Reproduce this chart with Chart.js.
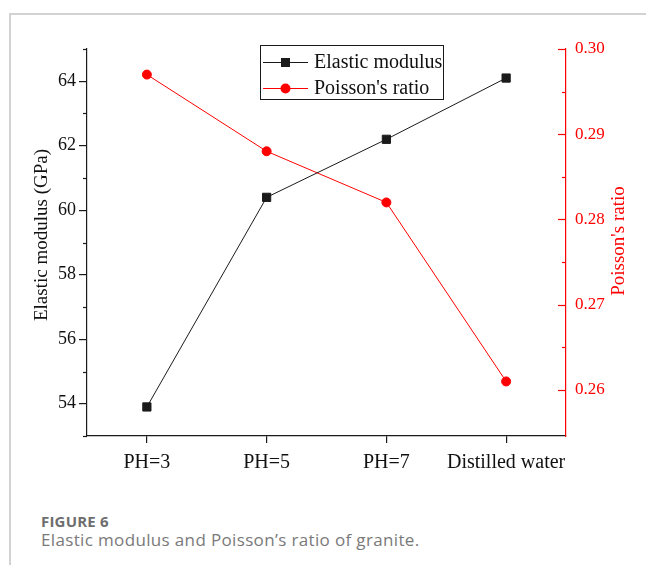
<!DOCTYPE html>
<html>
<head>
<meta charset="utf-8">
<script src="https://cdn.jsdelivr.net/npm/chart.js@4/dist/chart.umd.min.js"></script>
<style>
  html, body { margin: 0; padding: 0; background: #fff; }
  #page { position: relative; width: 646px; height: 565px; overflow: hidden; }
  #frame { position: absolute; left: 9px; top: 13px; right: -4px; bottom: -4px;
           border-left: 2px solid #d2d2d2; border-top: 2px solid #d2d2d2; }
  #wrap { position: absolute; left: 0; top: 0; width: 646px; height: 480px; }
  .cap1 { position: absolute; left: 41px; top: 511px; font: bold 15px "Open Sans", sans-serif;
          color: #6e6e6e; letter-spacing: 0.2px; }
  .cap2 { position: absolute; left: 41px; top: 528px; font: 17px "Open Sans", sans-serif;
          color: #7a7a7a; letter-spacing: 0.35px; }
</style>
</head>
<body>
<div id="page">
  <div id="frame"></div>
  <div id="wrap"><canvas id="c" width="646" height="480"></canvas></div>
  <div class="cap1">FIGURE 6</div>
  <div class="cap2">Elastic modulus and Poisson’s ratio of granite.</div>
</div>
<script>
// Test conditions along the x axis
const categories = ['PH=3', 'PH=5', 'PH=7', 'Distilled water'];
// Elastic modulus, GPa (left axis)
const elasticModulus = [53.9, 60.4, 62.2, 64.1];
// Poisson's ratio (right axis)
const poissonRatio = [0.297, 0.288, 0.282, 0.261];
// Labelled ticks
const modulusTicks = [54, 56, 58, 60, 62, 64];
const modulusMinorTicks = [53, 55, 57, 59, 61, 63, 65];
const ratioTicks = [0.26, 0.27, 0.28, 0.29, 0.30];
const ratioMinorTicks = [0.265, 0.275, 0.285, 0.295];

const SERIF = "'Liberation Serif'";
const INK = '#1a1a1a';
const RED = '#ff0000';

// Minor ticks (outward on the left axis, inward on the right axis),
// right-axis major ticks, both axis titles and the boxed legend.
const extras = {
  id: 'extras',
  afterDraw(chart) {
    const ctx = chart.ctx;
    const y = chart.scales.y, y1 = chart.scales.y1;
    const ca = chart.chartArea;
    ctx.save();
    ctx.lineWidth = 1.2;
    // left minor ticks
    ctx.strokeStyle = INK;
    modulusMinorTicks.forEach(v => {
      const py = Math.round(y.getPixelForValue(v)) + 0.5;
      ctx.beginPath(); ctx.moveTo(ca.left - 4, py); ctx.lineTo(ca.left, py); ctx.stroke();
    });
    // right ticks, pointing into the plot
    ctx.strokeStyle = RED;
    ratioTicks.forEach(v => {
      const py = Math.round(y1.getPixelForValue(v)) + 0.5;
      ctx.beginPath(); ctx.moveTo(ca.right - 8, py); ctx.lineTo(ca.right, py); ctx.stroke();
    });
    ratioMinorTicks.forEach(v => {
      const py = Math.round(y1.getPixelForValue(v)) + 0.5;
      ctx.beginPath(); ctx.moveTo(ca.right - 4, py); ctx.lineTo(ca.right, py); ctx.stroke();
    });
    ctx.restore();

    // axis titles, both reading bottom to top
    const titles = [
      { text: 'Elastic modulus (GPa)', x: 42, y: 235, color: '#111' },
      { text: "Poisson's ratio", x: 619, y: 241, color: RED }
    ];
    titles.forEach(t => {
      ctx.save();
      ctx.fillStyle = t.color;
      ctx.font = '19px ' + SERIF;
      ctx.textAlign = 'center';
      ctx.textBaseline = 'middle';
      ctx.translate(t.x, t.y);
      ctx.rotate(-Math.PI / 2);
      ctx.fillText(t.text, 0, 0);
      ctx.restore();
    });

    // legend
    ctx.save();
    const bx = 260.5, by = 45.5, bw = 183, bh = 54;
    ctx.strokeStyle = INK;
    ctx.lineWidth = 1;
    ctx.strokeRect(bx, by, bw, bh);
    ctx.font = '20px ' + SERIF;
    ctx.textAlign = 'left';
    ctx.textBaseline = 'middle';
    const rows = [62, 88];
    chart.data.datasets.forEach((ds, i) => {
      const ry = rows[i] + 0.5;
      ctx.strokeStyle = ds.borderColor;
      ctx.lineWidth = 1;
      ctx.beginPath(); ctx.moveTo(263, ry); ctx.lineTo(308, ry); ctx.stroke();
      ctx.fillStyle = ds.borderColor;
      if (ds.pointStyle === 'rect') {
        ctx.fillRect(281, ry - 4.5, 9, 9);
      } else {
        ctx.beginPath(); ctx.arc(285.5, ry, 5, 0, Math.PI * 2); ctx.fill();
      }
      ctx.fillStyle = '#111';
      ctx.fillText(ds.label, 314, ry);
    });
    ctx.restore();
  }
};

new Chart(document.getElementById('c'), {
  type: 'line',
  data: {
    labels: categories,
    datasets: [
      {
        label: 'Elastic modulus',
        data: elasticModulus,
        yAxisID: 'y',
        borderColor: INK,
        backgroundColor: INK,
        borderWidth: 1,
        pointStyle: 'rect',
        pointRadius: 5.8,
        pointBorderWidth: 1,
        tension: 0
      },
      {
        label: "Poisson's ratio",
        data: poissonRatio,
        yAxisID: 'y1',
        borderColor: RED,
        backgroundColor: RED,
        borderWidth: 1,
        pointStyle: 'circle',
        pointRadius: 4.5,
        pointBorderWidth: 1,
        tension: 0
      }
    ]
  },
  options: {
    responsive: false,
    animation: false,
    layout: { padding: { top: 49, left: 0, right: 0, bottom: 0 } },
    plugins: { legend: { display: false }, tooltip: { enabled: false } },
    scales: {
      x: {
        type: 'category',
        offset: true,
        grid: { offset: false, drawOnChartArea: false, drawTicks: true, tickLength: 7, color: INK, lineWidth: 1.2 },
        border: { display: true, color: INK, width: 1.2 },
        ticks: { color: '#111', font: { family: SERIF, size: 20 }, padding: 8, maxRotation: 0, autoSkip: false },
        afterFit(s) { s.height = 44; }
      },
      y: {
        position: 'left',
        min: 53, max: 65,
        afterBuildTicks(s) { s.ticks = modulusTicks.map(v => ({ value: v })); },
        grid: { drawOnChartArea: false, drawTicks: true, tickLength: 8, color: INK, lineWidth: 1.2 },
        border: { display: true, color: INK, width: 1.2 },
        ticks: { color: '#111', font: { family: SERIF, size: 18 }, padding: 3 },
        afterFit(s) { s.width = 87; }
      },
      y1: {
        position: 'right',
        min: 0.2546, max: 0.30,
        afterBuildTicks(s) { s.ticks = ratioTicks.map(v => ({ value: v })); },
        grid: { display: false, drawOnChartArea: false, drawTicks: false },
        border: { display: true, color: RED, width: 1.2 },
        ticks: { color: RED, font: { family: SERIF, size: 17 }, padding: 9,
                 callback: v => v.toFixed(2) },
        afterFit(s) { s.width = 80; }
      }
    }
  },
  plugins: [extras]
});
</script>
</body>
</html>
